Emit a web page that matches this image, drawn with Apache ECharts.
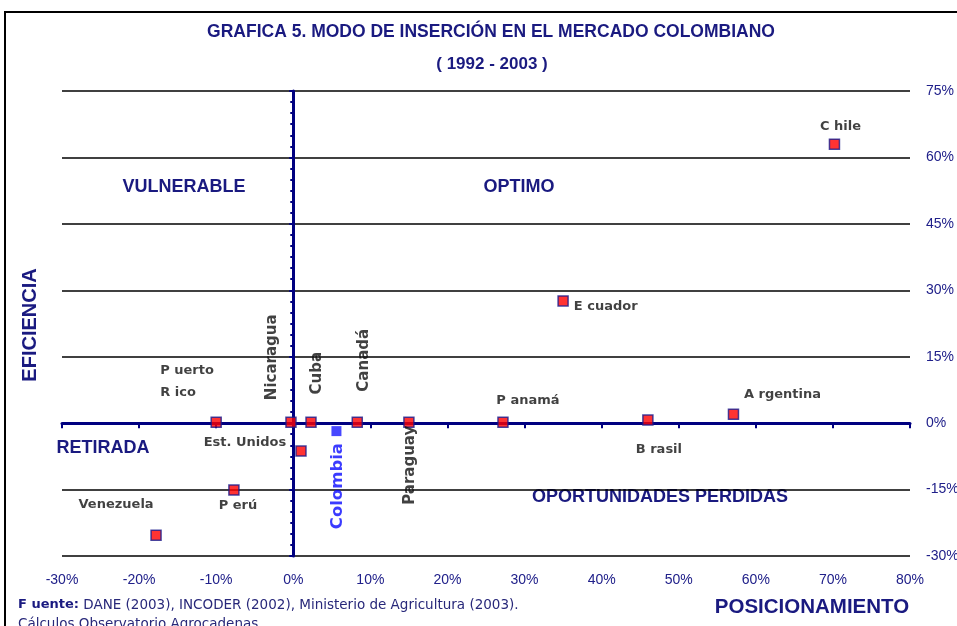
<!DOCTYPE html>
<html><head><meta charset="utf-8">
<script src="https://cdn.jsdelivr.net/npm/echarts@6/dist/echarts.min.js"></script>
<style>html,body{margin:0;padding:0;background:#fff}#c{width:957px;height:626px}</style>
</head><body><div id="c"></div>
<script>
// ---- data ----
const countries = ['Chile','Ecuador','Argentina','Brasil','Panamá','Paraguay','Canadá','Cuba','Nicaragua','Puerto Rico','Est. Unidos','Perú','Venezuela','Colombia'];
const posicionamiento = [70.2, 35.0, 57.1, 46.0, 27.2, 15.0, 8.3, 2.3, -0.3, -10.0, 1.0, -7.7, -17.8, 5.6];
const eficiencia      = [63.0, 27.6, 2.0, 0.7, 0.2, 0.2, 0.2, 0.2, 0.2, 0.2, -6.3, -15.1, -25.3, -1.8];
const xTicks = [-30,-20,-10,0,10,20,30,40,50,60,70,80];
const yTicks = [-30,-15,0,15,30,45,60,75];
const labelTexts = ['C hile','E cuador','A rgentina','B rasil','P anamá','Paraguay','Canadá','Cuba','Nicaragua','P uerto\nR ico','Est. Unidos','P erú','Venezuela','Colombia'];

// ---- label layout (style only); offsets of rotated labels are given in screen coords ----
const NAVY = '#1a1a80';
const ptFont = {fontFamily:'DejaVu Sans, sans-serif', fontWeight:'bold', fontSize:13, color:'#111'};
const rotFont = {fontFamily:'DejaVu Sans, sans-serif', fontWeight:'bold', fontSize:15, color:'#111'};
const labelLayout = {
  'Chile':      {position:'top', offset:[6,0]},
  'Ecuador':    {position:'right', offset:[0,6]},
  'Argentina':  {position:'top', offset:[49,-2]},
  'Brasil':     {position:'bottom', offset:[11,12]},
  'Panamá':     {position:'top', offset:[25,-4]},
  'Paraguay':   {rot:true, screen:[1,43]},
  'Canadá':     {rot:true, screen:[7,-62]},
  'Cuba':       {rot:true, screen:[6,-49]},
  'Nicaragua':  {rot:true, screen:[-19,-65]},
  'Puerto Rico':{position:'inside', offset:[-56,-41], align:'left', lineHeight:22},
  'Est. Unidos':{position:'left', offset:[-4,-8]},
  'Perú':       {position:'bottom', offset:[4,-2]},
  'Venezuela':  {position:'top', offset:[-40,-13]},
  'Colombia':   {rot:true, screen:[1,55], color:'#0a0aff', size:16.5}
};

const data = countries.map((name,i)=>{
  const L = labelLayout[name];
  const isCol = name==='Colombia';
  let lab;
  if (L.rot) {
    // label offset is applied in the rotated frame: convert screen offset
    lab = Object.assign({show:true, formatter:labelTexts[i]}, rotFont,
      {position:'inside', rotate:90, offset:[-L.screen[1], L.screen[0]]});
  } else {
    lab = Object.assign({show:true, formatter:labelTexts[i]}, ptFont, {position:L.position, offset:L.offset});
    if (L.align) lab.align = L.align;
    if (L.lineHeight) lab.lineHeight = L.lineHeight;
  }
  if (L.color) lab.color = L.color;
  if (L.size) lab.fontSize = L.size;
  return {
    name, value:[posicionamiento[i], eficiencia[i]],
    itemStyle: isCol ? {color:'#1a1aff', borderWidth:0} : {color:'#ff0000', borderColor:'#1a1a8c', borderWidth:1.5},
    symbolSize: 10,
    label: lab
  };
});

const chart = echarts.init(document.getElementById('c'), null, {renderer:'canvas'});
const tickFont = {fontFamily:'Liberation Sans, Arial, sans-serif', fontSize:14, color:'#20208a'};
const headFont = 'Liberation Sans, Arial, sans-serif';

chart.setOption({
  animation:false,
  grid:{left:62, right:47, top:91, bottom:70, containLabel:false, outerBoundsMode:'none'},
  xAxis:[
    {type:'value', min:xTicks[0], max:xTicks[xTicks.length-1], interval:10, position:'bottom',
     axisLine:{show:false}, axisTick:{show:false}, splitLine:{show:false},
     axisLabel:Object.assign({formatter:'{value}%', margin:17}, tickFont)},
    {type:'value', min:xTicks[0], max:xTicks[xTicks.length-1], interval:10, position:'bottom',
     axisLine:{show:true, onZero:true, lineStyle:{color:'#000080', width:3}},
     axisTick:{show:true, inside:false, length:5, lineStyle:{color:'#000080', width:2}},
     axisLabel:{show:false}, splitLine:{show:false}}
  ],
  yAxis:[
    {type:'value', min:yTicks[0], max:yTicks[yTicks.length-1], interval:15, position:'right',
     axisLine:{show:false}, axisTick:{show:false},
     splitLine:{show:true, lineStyle:{color:'#000', width:1.5}},
     axisLabel:Object.assign({formatter:'{value}%', margin:16}, tickFont)},
    {type:'value', min:yTicks[0], max:yTicks[yTicks.length-1], interval:15, position:'left',
     axisLine:{show:true, onZero:true, lineStyle:{color:'#000080', width:3}},
     axisTick:{show:true, length:4, lineStyle:{color:'#000080', width:2}},
     minorTick:{show:true, splitNumber:6, length:3, lineStyle:{color:'#000080', width:2}},
     axisLabel:{show:false}, splitLine:{show:false}}
  ],
  series:[{
    type:'scatter', xAxisIndex:1, yAxisIndex:0, symbol:'rect', data, z:5
  }],
  graphic:[
    {type:'rect', shape:{x:5, y:12, width:1000, height:700}, style:{fill:null, stroke:'#000', lineWidth:2}, silent:true},
    {type:'text', x:491, y:32, style:{text:'GRAFICA 5. MODO DE INSERCIÓN EN EL MERCADO COLOMBIANO', font:'bold 17.5px '+headFont, fill:NAVY, textAlign:'center', textVerticalAlign:'middle'}},
    {type:'text', x:492, y:64, style:{text:'( 1992 - 2003 )', font:'bold 17px '+headFont, fill:NAVY, textAlign:'center', textVerticalAlign:'middle'}},
    {type:'text', x:184, y:187, style:{text:'VULNERABLE', font:'bold 18px '+headFont, fill:NAVY, textAlign:'center', textVerticalAlign:'middle'}},
    {type:'text', x:519, y:187, style:{text:'OPTIMO', font:'bold 18px '+headFont, fill:NAVY, textAlign:'center', textVerticalAlign:'middle'}},
    {type:'text', x:103, y:448, style:{text:'RETIRADA', font:'bold 18px '+headFont, fill:NAVY, textAlign:'center', textVerticalAlign:'middle'}},
    {type:'text', x:660, y:497, style:{text:'OPORTUNIDADES PERDIDAS', font:'bold 18px '+headFont, fill:NAVY, textAlign:'center', textVerticalAlign:'middle'}},
    {type:'text', x:30, y:325, rotation:Math.PI/2, style:{text:'EFICIENCIA', font:'bold 20px '+headFont, fill:NAVY, textAlign:'center', textVerticalAlign:'middle'}},
    {type:'text', x:812, y:607, style:{text:'POSICIONAMIENTO', font:'bold 20.5px '+headFont, fill:NAVY, textAlign:'center', textVerticalAlign:'middle'}},
    {type:'text', x:18, y:605, style:{text:'{b|F uente:} DANE (2003), INCODER (2002), Ministerio de Agricultura (2003).',
      rich:{b:{font:'bold 13px DejaVu Sans, sans-serif', fill:NAVY}}, font:'13.5px DejaVu Sans, sans-serif', fill:'#28287a', textVerticalAlign:'middle'}},
    {type:'text', x:18, y:624, style:{text:'Cálculos Observatorio Agrocadenas', font:'13.5px DejaVu Sans, sans-serif', fill:'#28287a', textVerticalAlign:'middle'}}
  ]
});
</script></body></html>
